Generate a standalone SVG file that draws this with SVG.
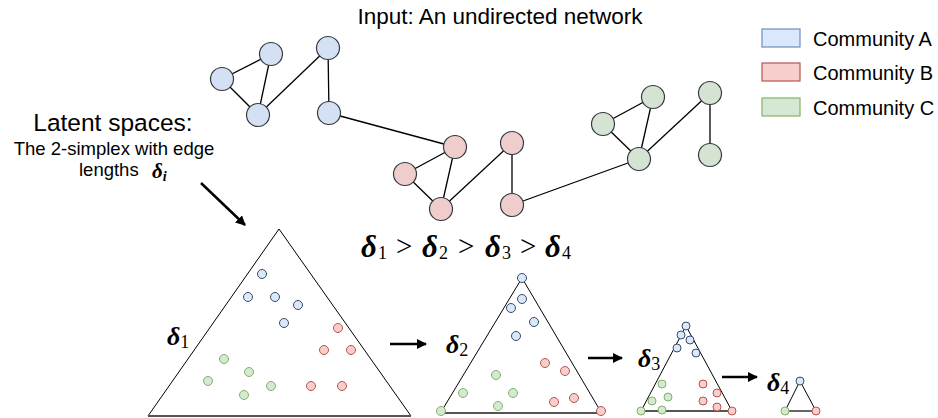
<svg xmlns="http://www.w3.org/2000/svg" width="938" height="418" viewBox="0 0 938 418">
<defs>
<style>
.t{font-family:"Liberation Sans",Arial,sans-serif;fill:#000}
.m{font-family:"Liberation Serif","DejaVu Serif",serif;font-style:italic;font-weight:bold;fill:#000}
.r{font-family:"Liberation Serif","DejaVu Serif",serif;fill:#000}
.sub{font-style:normal;font-weight:normal}
.na{fill:#d4e1f5;stroke:#36393d;stroke-width:1.2}
.nb{fill:#f0cdcd;stroke:#36393d;stroke-width:1.2}
.nc{fill:#d5e3d2;stroke:#36393d;stroke-width:1.2}
.e{stroke:#000;stroke-width:1.3;fill:none}
.da{fill:#dae8fc;stroke:#3b4a66;stroke-width:1}
.db{fill:#f8cecc;stroke:#b85450;stroke-width:1}
.dc{fill:#d5e8d4;stroke:#82b366;stroke-width:1}
.tri{fill:none;stroke:#000;stroke-width:1}
.base{stroke:#555;stroke-width:1.8}
.arr{stroke:#000;stroke-width:2.5;fill:none;marker-end:url(#ah)}
</style>
<marker id="ah" viewBox="0 0 10 10" refX="9" refY="5" markerWidth="4" markerHeight="4" orient="auto" markerUnits="strokeWidth">
<path d="M0,0 L10,5 L0,10 Z" fill="#000"/>
</marker>
</defs>
<rect width="938" height="418" fill="#fff"/>

<text class="t" x="500" y="24" font-size="22.5" text-anchor="middle">Input: An undirected network</text>

<g id="legend">
<g id="legend-a"><rect x="762" y="29" width="38" height="18" fill="#dae8fc" stroke="#6c8ebf" stroke-width="1.2"/><text class="t" x="813" y="46" font-size="20">Community A</text></g>
<g id="legend-b"><rect x="762" y="63" width="38" height="18" fill="#f8cecc" stroke="#b85450" stroke-width="1.2"/><text class="t" x="813" y="80" font-size="20">Community B</text></g>
<g id="legend-c"><rect x="762" y="98" width="38" height="18" fill="#d5e8d4" stroke="#82b366" stroke-width="1.2"/><text class="t" x="813" y="115" font-size="20">Community C</text></g>
</g>

<g id="caption">
<text class="t" x="113" y="131" font-size="24.5" text-anchor="middle">Latent spaces:</text>
<text class="t" x="114" y="155" font-size="18.5" text-anchor="middle">The 2-simplex with edge</text>
<text class="t" x="79" y="176" font-size="18.5">lengths</text>
<text class="m" x="152" y="178" font-size="21">δ<tspan font-size="14" dy="3">i</tspan></text>
</g>

<g id="connectors">
<line class="e" x1="222" y1="79" x2="271" y2="54"/>
<line class="e" x1="222" y1="79" x2="258" y2="115"/>
<line class="e" x1="271" y1="54" x2="258" y2="115"/>
<line class="e" x1="258" y1="115" x2="328" y2="48"/>
<line class="e" x1="328" y1="48" x2="329" y2="113"/>
<line class="e" x1="329" y1="113" x2="455" y2="147"/>
<line class="e" x1="455" y1="147" x2="405" y2="174"/>
<line class="e" x1="455" y1="147" x2="441" y2="209"/>
<line class="e" x1="405" y1="174" x2="441" y2="209"/>
<line class="e" x1="441" y1="209" x2="512" y2="143"/>
<line class="e" x1="512" y1="143" x2="512" y2="205"/>
<line class="e" x1="512" y1="205" x2="639" y2="159"/>
<line class="e" x1="653" y1="97" x2="603" y2="124"/>
<line class="e" x1="653" y1="97" x2="639" y2="159"/>
<line class="e" x1="603" y1="124" x2="639" y2="159"/>
<line class="e" x1="639" y1="159" x2="710" y2="93"/>
<line class="e" x1="710" y1="93" x2="710" y2="155"/>
<line class="arr" x1="201" y1="183" x2="245" y2="225"/>
<line class="arr" x1="390" y1="344" x2="426" y2="344"/>
<line class="arr" x1="588" y1="358" x2="622" y2="358"/>
<line class="arr" x1="722" y1="377" x2="757" y2="377"/>
</g>

<g id="a1"><circle class="na" cx="222" cy="79" r="11.5"/></g>
<g id="a2"><circle class="na" cx="271" cy="54" r="11.5"/></g>
<g id="a3"><circle class="na" cx="258" cy="115" r="11.5"/></g>
<g id="a4"><circle class="na" cx="328" cy="48" r="11.5"/></g>
<g id="a5"><circle class="na" cx="329" cy="113" r="11.5"/></g>
<g id="b1"><circle class="nb" cx="455" cy="147" r="11.5"/></g>
<g id="b2"><circle class="nb" cx="405" cy="174" r="11.5"/></g>
<g id="b3"><circle class="nb" cx="441" cy="209" r="11.5"/></g>
<g id="b4"><circle class="nb" cx="512" cy="143" r="11.5"/></g>
<g id="b5"><circle class="nb" cx="512" cy="205" r="11.5"/></g>
<g id="c1"><circle class="nc" cx="653" cy="97" r="11.5"/></g>
<g id="c2"><circle class="nc" cx="603" cy="124" r="11.5"/></g>
<g id="c3"><circle class="nc" cx="639" cy="159" r="11.5"/></g>
<g id="c4"><circle class="nc" cx="710" cy="93" r="11.5"/></g>
<g id="c5"><circle class="nc" cx="710" cy="155" r="11.5"/></g>

<g id="formula">
<text class="m" x="361" y="257" font-size="31">δ<tspan class="sub" font-size="18" x="378" dy="2">1</tspan></text>
<text class="r" x="396" y="256" font-size="29">&gt;</text>
<text class="m" x="422" y="257" font-size="31">δ<tspan class="sub" font-size="18" x="439" dy="2">2</tspan></text>
<text class="r" x="458" y="256" font-size="29">&gt;</text>
<text class="m" x="485" y="257" font-size="31">δ<tspan class="sub" font-size="18" x="502" dy="2">3</tspan></text>
<text class="r" x="520" y="256" font-size="29">&gt;</text>
<text class="m" x="545" y="257" font-size="31">δ<tspan class="sub" font-size="18" x="562" dy="2">4</tspan></text>
</g>

<g id="simplex1">
<path class="tri" d="M148,416 L279,229 L411,416"/>
<line class="base" x1="148" y1="416" x2="411" y2="416"/>
<circle class="da" cx="262" cy="274" r="4.5"/><circle class="da" cx="248" cy="297" r="4.5"/><circle class="da" cx="275" cy="297" r="4.5"/><circle class="da" cx="298" cy="305" r="4.5"/><circle class="da" cx="284" cy="323" r="4.5"/>
<circle class="db" cx="338" cy="328" r="4.5"/><circle class="db" cx="324" cy="350" r="4.5"/><circle class="db" cx="351" cy="350" r="4.5"/><circle class="db" cx="311" cy="386" r="4.5"/><circle class="db" cx="342" cy="386" r="4.5"/>
<circle class="dc" cx="224" cy="359" r="4.5"/><circle class="dc" cx="249" cy="372" r="4.5"/><circle class="dc" cx="208" cy="381" r="4.5"/><circle class="dc" cx="271" cy="386" r="4.5"/><circle class="dc" cx="244" cy="395" r="4.5"/>
<text class="m" x="167" y="345" font-size="26">δ<tspan class="sub" font-size="18" dy="3">1</tspan></text>
</g>

<g id="simplex2">
<path class="tri" d="M441,412 L522,278 L601,412"/>
<line class="base" x1="441" y1="413" x2="601" y2="413"/>
<circle class="da" cx="522" cy="278" r="4.5"/><circle class="da" cx="522" cy="299" r="4.5"/><circle class="da" cx="511" cy="308" r="4.5"/><circle class="da" cx="534" cy="322" r="4.5"/><circle class="da" cx="516" cy="336" r="4.5"/>
<circle class="db" cx="545" cy="363" r="4.5"/><circle class="db" cx="565" cy="371" r="4.5"/><circle class="db" cx="574" cy="398" r="4.5"/><circle class="db" cx="554" cy="402" r="4.5"/><circle class="db" cx="601" cy="411" r="4.5"/>
<circle class="dc" cx="496" cy="375" r="4.5"/><circle class="dc" cx="463" cy="393" r="4.5"/><circle class="dc" cx="513" cy="393" r="4.5"/><circle class="dc" cx="498" cy="406" r="4.5"/><circle class="dc" cx="441" cy="411" r="4.5"/>
<text class="m" x="446" y="353" font-size="26">δ<tspan class="sub" font-size="18" dy="3">2</tspan></text>
</g>

<g id="simplex3">
<path class="tri" d="M641,411 L686,326 L732,411"/>
<line class="base" x1="641" y1="411" x2="732" y2="411"/>
<circle class="da" cx="686" cy="326" r="4"/><circle class="da" cx="681" cy="335" r="4"/><circle class="da" cx="690" cy="340" r="4"/><circle class="da" cx="677" cy="348" r="4"/><circle class="da" cx="696" cy="353" r="4"/>
<circle class="db" cx="703" cy="384" r="4"/><circle class="db" cx="717" cy="393" r="4"/><circle class="db" cx="703" cy="401" r="4"/><circle class="db" cx="717" cy="407" r="4"/><circle class="db" cx="732" cy="411" r="4"/>
<circle class="dc" cx="662" cy="384" r="4"/><circle class="dc" cx="668" cy="397" r="4"/><circle class="dc" cx="652" cy="401" r="4"/><circle class="dc" cx="662" cy="410" r="4"/><circle class="dc" cx="641" cy="411" r="4"/>
<text class="m" x="638" y="367" font-size="26">δ<tspan class="sub" font-size="18" dy="3">3</tspan></text>
</g>

<g id="simplex4">
<path class="tri" d="M785,411 L800,381 L816,411"/>
<line class="base" x1="785" y1="411" x2="816" y2="411"/>
<circle class="da" cx="800" cy="381" r="4"/>
<circle class="db" cx="816" cy="411" r="4"/>
<circle class="dc" cx="785" cy="411" r="4"/>
<text class="m" x="767" y="391" font-size="26">δ<tspan class="sub" font-size="18" dy="3">4</tspan></text>
</g>
</svg>
